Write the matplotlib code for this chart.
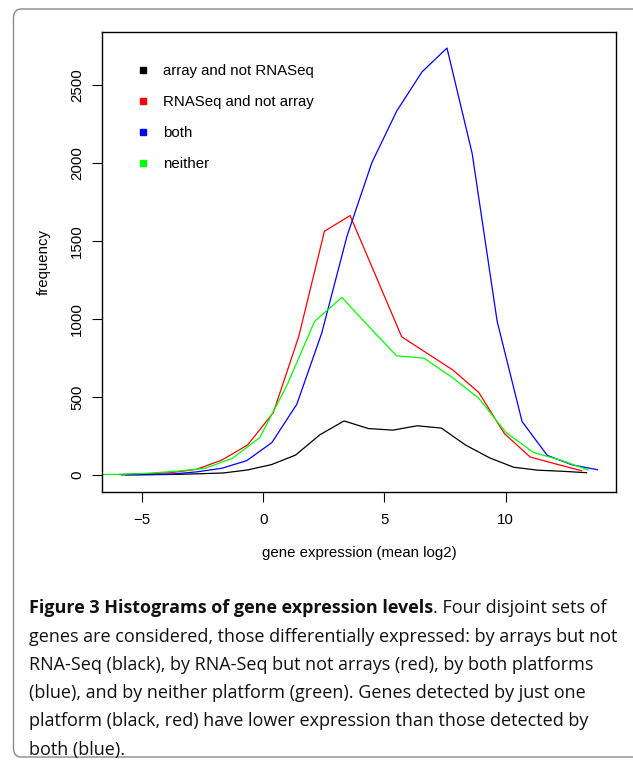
import matplotlib
matplotlib.use("Agg")
import matplotlib.pyplot as plt
from matplotlib.lines import Line2D
from matplotlib.patches import FancyBboxPatch

# frequency polygons (bin mid-points, counts)
black_x = [-5.68, -4.67, -3.66, -2.66, -1.66, -0.67, 0.34, 1.33, 2.33, 3.33,
           4.34, 5.35, 6.35, 7.35, 8.34, 9.34, 10.33, 11.33, 12.34, 13.34]
black_y = [1, 2, 4, 8, 13, 32, 67, 128, 258, 347,
           298, 288, 316, 301, 193, 110, 50, 31, 24, 15]

red_x = [-5.95, -4.89, -3.83, -2.77, -1.71, -0.65, 0.41, 1.46, 2.52, 3.58,
         4.65, 5.71, 6.77, 7.83, 8.89, 9.95, 11.01, 12.07, 13.13]
red_y = [3, 8, 15, 36, 96, 193, 400, 889, 1564, 1665,
         1274, 887, 780, 673, 530, 266, 116, 71, 28]

blue_x = [-5.86, -4.83, -3.79, -2.76, -1.72, -0.69, 0.35, 1.38, 2.41, 3.45,
          4.48, 5.51, 6.55, 7.58, 8.62, 9.65, 10.68, 11.72, 12.75, 13.79]
blue_y = [1, 3, 6, 20, 43, 92, 208, 454, 911, 1532,
          2005, 2337, 2587, 2740, 2063, 987, 343, 126, 65, 34]

green_x = [-6.93, -5.80, -4.67, -3.54, -2.41, -1.28, -0.15, 0.98, 2.11, 3.24,
           4.37, 5.50, 6.63, 7.76, 8.89, 10.02, 11.15, 12.28, 13.41]
green_y = [2, 5, 12, 25, 43, 107, 240, 578, 985, 1140,
           950, 765, 750, 630, 493, 272, 145, 95, 32]

labels = ["array and not RNASeq", "RNASeq and not array", "both", "neither"]
colors = ["#000000", "#FF0000", "#0000FF", "#00FF00"]

caption_bold = "Figure 3 Histograms of gene expression levels"
caption_lines = [
    ". Four disjoint sets of",
    "genes are considered, those differentially expressed: by arrays but not",
    "RNA-Seq (black), by RNA-Seq but not arrays (red), by both platforms",
    "(blue), and by neither platform (green). Genes detected by just one",
    "platform (black, red) have lower expression than those detected by",
    "both (blue).",
]

W, H = 633, 761
plt.rcParams["font.family"] = ["Liberation Sans", "DejaVu Sans"]
fig = plt.figure(figsize=(W / 100, H / 100), dpi=100)

# rounded frame around figure + caption
frame = FancyBboxPatch((13.5 / W, 1 - 757 / H), 640 / W, (757 - 9) / H,
                       boxstyle="round,pad=0,rounding_size=0.012",
                       transform=fig.transFigure, fc="none", ec="#8a8a8a", lw=1.0)
fig.patches.append(frame)

ax = fig.add_axes([102.3 / W, 1 - 492 / H, 514 / W, 460.5 / H])
for xs, ys, c in [(black_x, black_y, colors[0]), (red_x, red_y, colors[1]),
                  (blue_x, blue_y, colors[2]), (green_x, green_y, colors[3])]:
    ax.plot(xs, ys, color=c, lw=0.9)

ax.set_xlim(-6.65, 14.57)
ax.set_ylim(-109, 2846)
ax.set_xticks([-5, 0, 5, 10])
ax.set_yticks([0, 500, 1000, 1500, 2000, 2500])
for s in ax.spines.values():
    s.set_linewidth(1.0)
ax.tick_params(length=7, width=0.8, labelsize=10.8, pad=8)
ax.tick_params(axis="y", labelrotation=90, pad=6)
for t in ax.get_yticklabels():
    t.set_va("center")
ax.set_xlabel("gene expression (mean log2)", fontsize=10.8, labelpad=14)
ax.set_ylabel("frequency", fontsize=10.8, labelpad=14)

handles = [Line2D([], [], ls="none", marker="s", ms=4.4, color=c, mec=c) for c in colors]
ax.legend(handles, labels, loc="upper left", frameon=False, fontsize=10.8,
          bbox_to_anchor=(135.5 / W, 1 - 64.5 / H), bbox_transform=fig.transFigure,
          borderpad=0, borderaxespad=0, handlelength=1.0, handletextpad=0.85,
          labelspacing=1.13)

# caption
cap_font = ["Open Sans", "DejaVu Sans"]
cap_size = 13.0
x0 = 29 / W
y_base = [613, 641.5, 670, 698.5, 726.5, 754.5]
tb = fig.text(x0, 1 - y_base[0] / H, caption_bold, fontsize=cap_size, family=cap_font,
              weight="bold", va="baseline", color="#111111")
fig.canvas.draw()
bb = tb.get_window_extent()
fig.text(bb.x1 / W, 1 - y_base[0] / H, caption_lines[0], fontsize=cap_size,
         family=cap_font, va="baseline", color="#111111")
for line, yb in zip(caption_lines[1:], y_base[1:]):
    fig.text(x0, 1 - yb / H, line, fontsize=cap_size, family=cap_font,
             va="baseline", color="#111111")

fig.savefig("out.png", dpi=100)
